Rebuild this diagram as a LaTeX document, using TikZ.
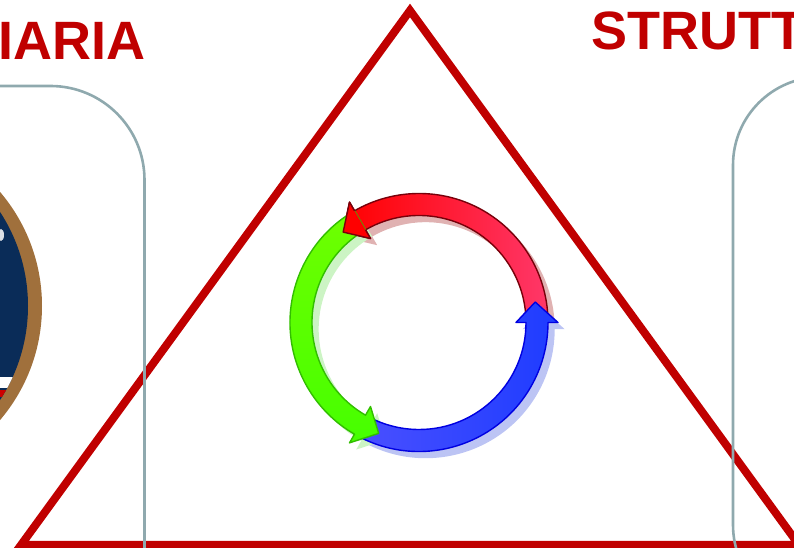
\documentclass[tikz,border=0pt]{standalone}
\usepackage{fontspec}
\setmainfont{Liberation Sans}
\usetikzlibrary{positioning}

\definecolor{titlered}{HTML}{C00000}
\definecolor{panelgray}{HTML}{8FA9AE}
\definecolor{sealbrown}{HTML}{A0703C}
\definecolor{sealblue}{HTML}{0A2C58}

\newcommand{\ringarrow}[2]{(#1:107pt) -- (#1:129pt) arc[start angle=#1, end angle=#2, radius=129pt]
    -- (#2:139pt) -- ({#2+10}:118pt) -- (#2:97pt) -- (#2:107pt)
    arc[start angle=#2, end angle=#1, radius=107pt] -- cycle}

\begin{document}
\begin{tikzpicture}[
            x=1pt, y=1pt,
            title/.style={anchor=base west, inner sep=0pt, text=titlered, font=\fontsize{54}{54}\selectfont\bfseries},
            panel/.style={draw=panelgray, line width=2.6pt},
            redarrow/.style={draw={rgb,255:red,120;green,0;blue,10}, line width=1.4pt, line join=round, left color=red, right color={rgb,255:red,255;green,55;blue,105}},
            greenarrow/.style={draw={rgb,255:red,50;green,190;blue,0}, line width=1.4pt, line join=round, top color={rgb,255:red,110;green,255;blue,0}, bottom color={rgb,255:red,70;green,255;blue,0}},
            bluearrow/.style={draw={rgb,255:red,0;green,0;blue,225}, line width=1.4pt, line join=round, left color={rgb,255:red,75;green,80;blue,255}, right color={rgb,255:red,30;green,60;blue,255}},
            drop/.style={shift={(6.7pt,-6.7pt)}}
        ]
        \useasboundingbox (0,0) rectangle (794,548);
        \clip (0,0) rectangle (794,548);

        % seal behind the left panel
        \fill[sealbrown] (-134,242) circle[radius=176pt];
        \fill[sealblue] (-144,242) circle[radius=172pt];
        \begin{scope}
            \clip (-144,242) circle[radius=172pt];
            \fill[white] (-5,160) rectangle (30,171);
            \fill[red!80!black] (-5,151) rectangle (30,158);
            \fill[white!85!sealblue] (1,313) ellipse (3pt and 6pt);
        \end{scope}

        \draw[titlered, line width=8pt] (410,537.5) -- (21,3) -- (799,3) -- cycle;
        \draw[panel, rounded corners=94pt] (-200,-100) rectangle (144.5,462);
        \draw[panel, rounded corners=88pt] (733,-65) rectangle (1100,471);

        \node[title] (leftword) at (-1.5,488) {IARIA};
        \node[title] (rightword) at (591,498) {STRUTT};

        \begin{scope}[shift={(419,225.5)}]
            % shadows first
            \fill[drop, fill={rgb,255:red,224;green,178;blue,178}] \ringarrow{0}{120};
            \fill[drop, fill={rgb,255:red,188;green,196;blue,244}] \ringarrow{240}{360};
            \fill[drop, fill={rgb,255:red,204;green,244;blue,196}] \ringarrow{120}{240};
            \path[redarrow] \ringarrow{0}{120};
            \path[bluearrow] \ringarrow{240}{360};
            \path[greenarrow] \ringarrow{120}{240};
            % red head again, it lies on the green tail
            \fill[red] (120:139pt) -- (130:118pt) -- (120:97pt) -- cycle;
            \draw[line width=1.4pt, line join=round, draw={rgb,255:red,120;green,0;blue,10}] (120:129pt) -- (120:139pt) -- (130:118pt) -- (120:97pt) -- (120:107pt);
        \end{scope}
        \end{tikzpicture}
\end{document}
